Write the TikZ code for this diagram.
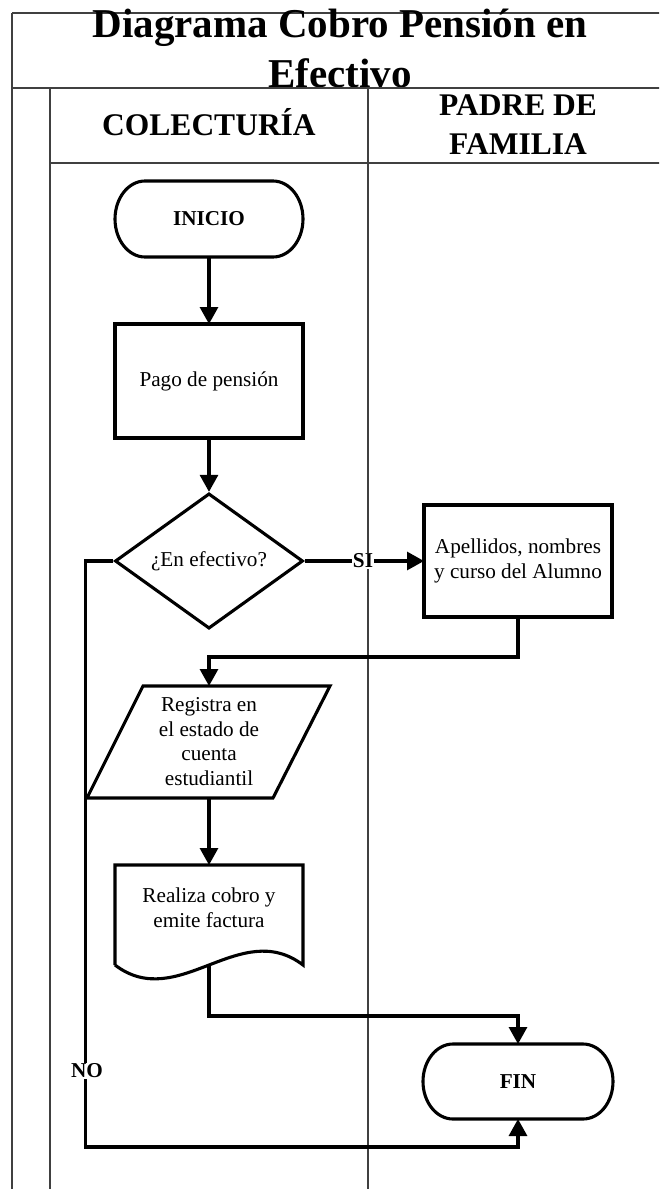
\documentclass[tikz,border=0pt]{standalone}
\usepackage{fontspec}
\setmainfont{Liberation Serif}
\usetikzlibrary{arrows.meta,shapes.geometric}
\newcommand\bodyf{\fontsize{21.2}{24.5}\selectfont}
\newcommand\headf{\fontsize{31.5}{39}\selectfont\bfseries}
\newcommand\titlef{\fontsize{41}{50}\selectfont\bfseries}
\tikzset{
  frameline/.style={line width=2.3pt, draw=black!75},
  outline/.style={line width=3.1pt, draw=black, line join=miter},
  conn/.style={line width=3.1pt, -{Triangle[length=17pt,width=18pt]}},
  ghost/.style={inner sep=0pt, outer sep=0pt, draw=none},
  txt/.style={font=\bodyf, align=center, inner sep=0pt},
  lbl/.style={font=\bodyf\bfseries, fill=white, inner sep=1pt},
}
\begin{document}
\begin{tikzpicture}[x=1pt,y=-1pt]
\useasboundingbox (0,0) rectangle (659,1189);
\clip (0,0) rectangle (659,1189);
% frame
\draw[frameline] (12,13) -- (720,13);
\draw[frameline] (12,13) -- (12,1210);
\draw[frameline] (50,88) -- (50,1210);
\draw[frameline] (368,88) -- (368,1210);
\draw[frameline] (50,163) -- (720,163);
% titles
\node[anchor=base, align=center, font=\titlef, inner sep=0pt] (title) at (340,87) {Diagrama Cobro Pensión en\\Efectivo};
\draw[frameline] (12,88) -- (720,88);
\node[anchor=base, align=center, font=\headf, inner sep=0pt] (lane1) at (209,135) {COLECTURÍA};
\node[anchor=base, align=center, font=\headf, inner sep=0pt] (lane2) at (518,154) {PADRE DE\\FAMILIA};
% INICIO
\node[ghost, minimum width=188pt, minimum height=76pt, font=\bodyf\bfseries] (inicio) at (209,219) {INICIO};
\draw[outline] (145,181) -- (273,181) arc[start angle=-90, end angle=90, x radius=30, y radius=38]
  -- (145,257) arc[start angle=90, end angle=270, x radius=30, y radius=38] -- cycle;
% Pago
\node[ghost, draw, outline, minimum width=188pt, minimum height=114pt, font=\bodyf] (pago) at (209,381) {Pago de pensión};
% decision
\node[diamond, outline, inner sep=0pt, minimum width=188pt, minimum height=112pt, font=\bodyf] (dec) at (209,561) {¿En efectivo?};
% Apellidos
\node[ghost, draw, outline, minimum width=188pt, minimum height=112pt, txt] (ape) at (518,561) {Apellidos, nombres\\y curso del Alumno};
% parallelogram
\node[ghost, minimum width=243pt, minimum height=112pt] (reg) at (209,742) {};
\draw[outline] (143,686) -- (330,686) -- (273,798) -- (87,798) -- cycle;
\node[txt, anchor=base] (regtext) at (209,785) {Registra en\\el estado de\\cuenta\\estudiantil};
% document
\node[ghost, minimum width=188pt, minimum height=101pt] (doc) at (209,915.5) {};
\draw[outline] (115,965) -- (115,865) -- (303,865) -- (303,965)
  .. controls (240,917) and (178,1013) .. (115,965);
\node[txt, anchor=base] (doctext) at (209,927) {Realiza cobro y\\emite factura};
% FIN
\node[ghost, minimum width=190pt, minimum height=75pt, font=\bodyf\bfseries] (fin) at (518,1081.5) {FIN};
\draw[outline] (453,1044) -- (583,1044) arc[start angle=-90, end angle=90, x radius=30, y radius=37.5]
  -- (453,1119) arc[start angle=90, end angle=270, x radius=30, y radius=37.5] -- cycle;
% connectors
\draw[conn] (inicio.south) -- (pago.north);
\draw[conn] (pago.south) -- (dec.north);
\draw[conn] (dec.east) -- (ape.west);
\draw[conn] (ape.south) -- ++(0,40) -| (reg.north);
\draw[conn] (reg.south) -- (doc.north);
\draw[conn] (doc.south) -- ++(0,50) -| (fin.north);
\draw[conn] (dec.west) -- ++(-28,0) |- ([yshift=-28pt]fin.south) -- (fin.south);
% labels
\node[lbl] (si) at (363,561) {SI};
\node[lbl] (no) at (87,1071) {NO};
\end{tikzpicture}
\end{document}
